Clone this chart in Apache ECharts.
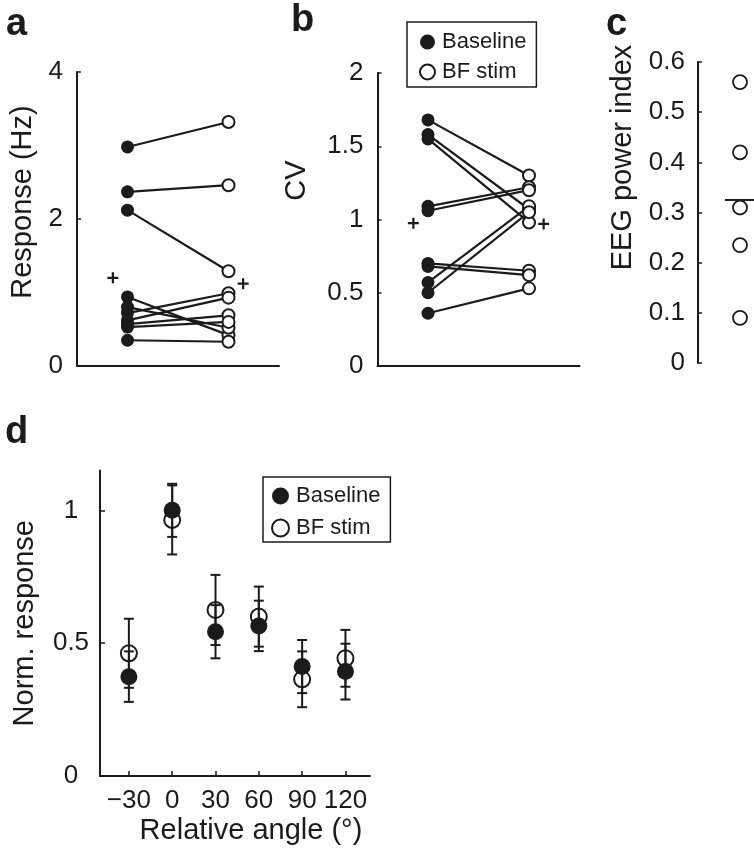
<!DOCTYPE html>
<html><head><meta charset="utf-8">
<script src="https://cdn.jsdelivr.net/npm/echarts@6/dist/echarts.min.js"></script>
<style>html,body{margin:0;padding:0;background:#fff}#c{width:754px;height:853px}</style>
</head><body><div id="c"></div>
<script>
// ---------- Panel a : Response (Hz) ----------
const aBaseline = [2.98, 2.37, 2.12, 0.94, 0.80, 0.72, 0.62, 0.57, 0.53, 0.35];
const aBFstim   = [3.32, 2.46, 1.29, 0.42, 0.52, 0.99, 0.93, 0.69, 0.60, 0.33];
const aMean     = [1.20, 1.12];            // "+" markers (baseline, BF stim)
// ---------- Panel b : CV ----------
const bBaseline = [1.68, 1.58, 1.55, 1.09, 1.06, 0.70, 0.68, 0.57, 0.50, 0.36];
const bBFstim   = [1.30, 1.07, 0.98, 1.22, 1.20, 0.65, 0.62, 1.09, 1.05, 0.53];
const bMean     = [0.975, 0.97];
// ---------- Panel c : EEG power index ----------
const cValues = [0.56, 0.42, 0.31, 0.235, 0.09];
const cMean   = 0.325;
// ---------- Panel d : Norm. response vs relative angle ----------
const dAngles       = [-30, 0, 30, 60, 90, 120];
const dBaseline     = [0.374, 1.00, 0.543, 0.565, 0.412, 0.393];
const dBaselineErr  = [0.095, 0.10, 0.10, 0.095, 0.10, 0.105];
const dBFstim       = [0.462, 0.964, 0.625, 0.600, 0.364, 0.443];
const dBFstimErr    = [0.13, 0.13, 0.132, 0.113, 0.105, 0.107];
const dYTicks       = [0, 0.5, 1];

const INK = '#1b1b1b';
const FONT = 'Liberation Sans';
const NAME_FS = 29;
const chart = echarts.init(document.getElementById('c'), null, {renderer: 'canvas'});

const PLUS = 'path://M4,0H6V4H10V6H6V10H4V6H0V4H4Z';

function yAx(grid, min, max, interval, name, gap, shift, extra) {
  return Object.assign({
    gridIndex: grid, type: 'value', min: min, max: max, interval: interval,
    name: name, nameLocation: 'middle', nameGap: gap,
    nameTextStyle: {fontSize: NAME_FS, color: INK, fontFamily: FONT, padding: [0, 0, 0, shift]},
    axisLine: {show: true, onZero: false, lineStyle: {color: INK, width: 2}},
    axisTick: {show: true, inside: true, length: 4, lineStyle: {color: INK, width: 1.5}},
    axisLabel: {fontSize: 26, color: INK, fontFamily: FONT, margin: 14},
    splitLine: {show: false}
  }, extra || {});
}
function xPlain(grid, min, max, showLine) {
  return {
    gridIndex: grid, type: 'value', min: min, max: max,
    axisLine: {show: showLine, onZero: false, lineStyle: {color: INK, width: 2}},
    axisTick: {show: false}, axisLabel: {show: false}, splitLine: {show: false}
  };
}

const series = [];
function pairedPanel(idx, base, bf, mean) {
  base.forEach((v, i) => {
    series.push({type: 'line', xAxisIndex: idx, yAxisIndex: idx, silent: true, z: 1,
      symbol: 'none', data: [[1, v], [3, bf[i]]],
      lineStyle: {color: INK, width: 2.2}});
  });
  series.push({type: 'scatter', name: 'Baseline', xAxisIndex: idx, yAxisIndex: idx, z: 3,
    symbolSize: 13, data: base.map(v => [1, v]), itemStyle: {color: INK, opacity: 1}});
  series.push({type: 'scatter', name: 'BF stim', xAxisIndex: idx, yAxisIndex: idx, z: 3,
    symbolSize: 12, data: bf.map(v => [3, v]),
    itemStyle: {color: '#fff', borderColor: INK, borderWidth: 2, opacity: 1}});
  series.push({type: 'scatter', xAxisIndex: idx, yAxisIndex: idx, z: 3, symbol: PLUS,
    symbolSize: 11, data: [[0.71, mean[0]], [3.29, mean[1]]], itemStyle: {color: INK, opacity: 1}});
}
pairedPanel(0, aBaseline, aBFstim, aMean);
pairedPanel(1, bBaseline, bBFstim, bMean);

// panel c
series.push({type: 'scatter', xAxisIndex: 2, yAxisIndex: 2, symbolSize: 14, z: 3,
  data: cValues.map(v => [0.75, v]),
  itemStyle: {color: '#fff', borderColor: INK, borderWidth: 1.8, opacity: 1}});
series.push({type: 'line', xAxisIndex: 2, yAxisIndex: 2, symbol: 'none', z: 4, silent: true,
  data: [[0.48, cMean], [1, cMean]], lineStyle: {color: INK, width: 2}});

// panel d
function errRender(params, api) {
  const x = api.value(0), y = api.value(1), e = api.value(2);
  const t = api.coord([x, y + e]), b = api.coord([x, y - e]);
  const w = 5, st = {stroke: INK, lineWidth: 2};
  return {type: 'group', children: [
    {type: 'line', shape: {x1: t[0], y1: t[1], x2: b[0], y2: b[1]}, style: st},
    {type: 'line', shape: {x1: t[0] - w, y1: t[1], x2: t[0] + w, y2: t[1]}, style: st},
    {type: 'line', shape: {x1: b[0] - w, y1: b[1], x2: b[0] + w, y2: b[1]}, style: st}
  ]};
}
series.push({type: 'custom', xAxisIndex: 3, yAxisIndex: 3, z: 1, renderItem: errRender,
  encode: {x: 0, y: 1}, data: dAngles.map((a, i) => [a, dBaseline[i], dBaselineErr[i]])});
series.push({type: 'custom', xAxisIndex: 3, yAxisIndex: 3, z: 1, renderItem: errRender,
  encode: {x: 0, y: 1}, data: dAngles.map((a, i) => [a, dBFstim[i], dBFstimErr[i]])});
series.push({type: 'scatter', name: 'Baseline', xAxisIndex: 3, yAxisIndex: 3, z: 3,
  symbolSize: 17, data: dAngles.map((a, i) => [a, dBaseline[i]]), itemStyle: {color: INK, opacity: 1}});
series.push({type: 'scatter', name: 'BF stim', xAxisIndex: 3, yAxisIndex: 3, z: 4,
  symbolSize: 16, data: dAngles.map((a, i) => [a, dBFstim[i]]),
  itemStyle: {color: 'rgba(0,0,0,0)', borderColor: INK, borderWidth: 2, opacity: 1}});

function legendAt(left, top, size, gap, pad) {
  return {
    orient: 'vertical', left: left, top: top, data: ['Baseline', 'BF stim'],
    icon: 'circle', itemWidth: size, itemHeight: size, itemGap: gap, selectedMode: false,
    borderColor: INK, borderWidth: 1.5, borderRadius: 0, padding: pad,
    textStyle: {fontSize: 22, color: INK, fontFamily: FONT, lineHeight: 22, padding: [0, 0, 0, 2]}
  };
}

const letter = (t, x, y) => ({type: 'text', left: x, top: y,
  style: {text: t, font: 'bold 38px "Liberation Sans"', fill: INK}});

chart.setOption({
  animation: false,
  backgroundColor: '#fff',
  grid: [
    {left: 77, top: 72, width: 202, height: 294},
    {left: 377.5, top: 73, width: 202, height: 293},
    {left: 698, top: 62, width: 56, height: 301},
    {left: 100, top: 470.5, width: 270, height: 305.5}
  ],
  xAxis: [
    xPlain(0, 0, 4, true),
    xPlain(1, 0, 4, true),
    xPlain(2, 0, 1, false),
    {
      gridIndex: 3, type: 'value', min: -50, max: 137,
      name: 'Relative angle (°)', nameLocation: 'middle', nameGap: 40,
      nameTextStyle: {fontSize: NAME_FS, color: INK, fontFamily: FONT, padding: [0, 0, 0, 32]},
      axisLine: {show: true, onZero: false, lineStyle: {color: INK, width: 2}},
      axisTick: {show: true, inside: true, length: 5, customValues: dAngles, lineStyle: {color: INK, width: 1.5}},
      axisLabel: {fontSize: 26, color: INK, fontFamily: FONT, margin: 12, customValues: dAngles,
        formatter: v => (v < 0 ? '\u2212' + Math.abs(v) : String(v))},
      splitLine: {show: false}
    }
  ],
  yAxis: [
    yAx(0, 0, 4, 2, 'Response (Hz)', 40, 34),
    yAx(1, 0, 2, 0.5, 'CV', 66, 78),
    yAx(2, 0, 0.6, 0.1, 'EEG power index', 61, 110, {axisLabel: {fontSize: 26, color: INK, fontFamily: FONT, margin: 13}}),
    yAx(3, 0, 1.15, null, 'Norm. response', 61, 0, {
      interval: undefined,
      axisTick: {show: true, inside: true, length: 5, customValues: dYTicks, lineStyle: {color: INK, width: 1.5}},
      axisLabel: {fontSize: 26, color: INK, fontFamily: FONT, margin: 29, align: 'center', customValues: dYTicks}
    })
  ],
  legend: [
    legendAt(407, 22, 15, 8, [9, 10, 4, 12]),
    legendAt(263, 477, 17, 10, [8, 10, 3, 8])
  ],
  graphic: [
    letter('a', 6, 6), letter('b', 291, 2), letter('c', 606, 6), letter('d', 5, 414)
  ],
  series: series
});
</script></body></html>
